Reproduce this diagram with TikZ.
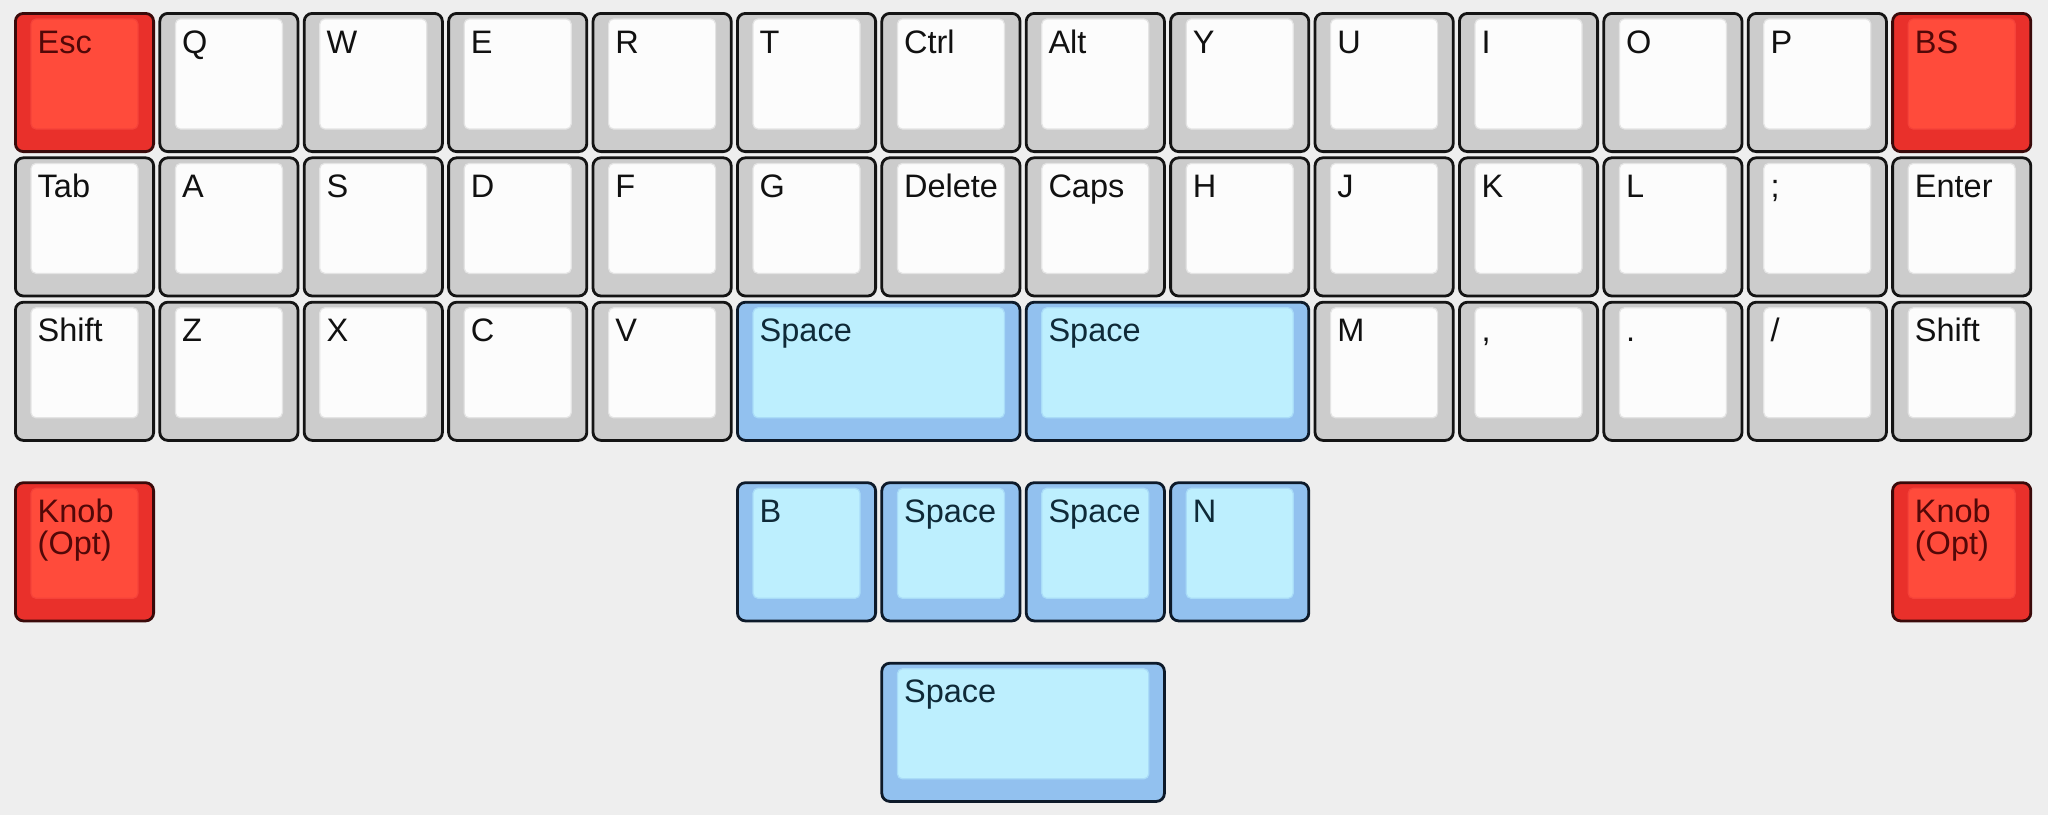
\documentclass[tikz,border=0pt]{standalone}
\usepackage{fontspec}
\setmainfont{Liberation Sans}
\definecolor{bg}{HTML}{EEEEEE}
\definecolor{greyout}{HTML}{CCCCCC}
\definecolor{greyin}{HTML}{FCFCFC}
\definecolor{greyrim}{HTML}{E4E4E4}
\definecolor{greytxt}{HTML}{111111}
\definecolor{greyedge}{HTML}{141414}
\definecolor{redout}{HTML}{E9302B}
\definecolor{redin}{HTML}{FF4B3B}
\definecolor{redrim}{HTML}{F5423A}
\definecolor{redtxt}{HTML}{520808}
\definecolor{rededge}{HTML}{3A0A0A}
\definecolor{blueout}{HTML}{92C1EF}
\definecolor{bluein}{HTML}{BDEFFE}
\definecolor{bluerim}{HTML}{A9DCF8}
\definecolor{bluetxt}{HTML}{0F2A38}
\definecolor{blueedge}{HTML}{0D1A2A}
\tikzset{
  keyouter/.style={rounded corners=8pt, line width=2.8pt, draw=#1edge, fill=#1out},
  keyinner/.style={rounded corners=5pt, line width=1.2pt, draw=#1rim, fill=#1in},
  keylabel/.style={inner sep=0pt, anchor=base west, text=#1txt,
    font=\fontsize{32.5}{32}\selectfont},
}
% name, col, row, width (units), kind, label
\newcommand\kcap[6]{%
  \path[keyouter=#5] ({15.4+#2*144.4},{13.4+#3*144.4}) rectangle ({14+#2*144.4+#4*144.4-4.8},{12+#3*144.4+139.6});
  \path[keyinner=#5] ({31+#2*144.4},{19+#3*144.4}) rectangle ({14+#2*144.4+#4*144.4-20.4},{12+#3*144.4+117});
  \node[keylabel=#5] (#1) at ({37.5+#2*144.4},{53+#3*144.4}) {#6};
}
\begin{document}
\begin{tikzpicture}[x=1pt,y=-1pt]
\useasboundingbox (0,0) rectangle (2048,815);
\fill[bg] (0,0) rectangle (2048,815);
% row 0
\kcap{esc}{0}{0}{1}{red}{Esc}
\kcap{q}{1}{0}{1}{grey}{Q}
\kcap{w}{2}{0}{1}{grey}{W}
\kcap{e}{3}{0}{1}{grey}{E}
\kcap{r}{4}{0}{1}{grey}{R}
\kcap{t}{5}{0}{1}{grey}{T}
\kcap{ctrl}{6}{0}{1}{grey}{Ctrl}
\kcap{alt}{7}{0}{1}{grey}{Alt}
\kcap{y}{8}{0}{1}{grey}{Y}
\kcap{u}{9}{0}{1}{grey}{U}
\kcap{i}{10}{0}{1}{grey}{I}
\kcap{o}{11}{0}{1}{grey}{O}
\kcap{p}{12}{0}{1}{grey}{P}
\kcap{bs}{13}{0}{1}{red}{BS}
% row 1
\kcap{tab}{0}{1}{1}{grey}{Tab}
\kcap{a}{1}{1}{1}{grey}{A}
\kcap{s}{2}{1}{1}{grey}{S}
\kcap{d}{3}{1}{1}{grey}{D}
\kcap{f}{4}{1}{1}{grey}{F}
\kcap{g}{5}{1}{1}{grey}{G}
\kcap{del}{6}{1}{1}{grey}{Delete}
\kcap{caps}{7}{1}{1}{grey}{Caps}
\kcap{h}{8}{1}{1}{grey}{H}
\kcap{j}{9}{1}{1}{grey}{J}
\kcap{k}{10}{1}{1}{grey}{K}
\kcap{l}{11}{1}{1}{grey}{L}
\kcap{semi}{12}{1}{1}{grey}{;}
\kcap{enter}{13}{1}{1}{grey}{Enter}
% row 2
\kcap{lshift}{0}{2}{1}{grey}{Shift}
\kcap{z}{1}{2}{1}{grey}{Z}
\kcap{x}{2}{2}{1}{grey}{X}
\kcap{c}{3}{2}{1}{grey}{C}
\kcap{v}{4}{2}{1}{grey}{V}
\kcap{spl}{5}{2}{2}{blue}{Space}
\kcap{spr}{7}{2}{2}{blue}{Space}
\kcap{m}{9}{2}{1}{grey}{M}
\kcap{comma}{10}{2}{1}{grey}{,}
\kcap{period}{11}{2}{1}{grey}{.}
\kcap{slash}{12}{2}{1}{grey}{/}
\kcap{rshift}{13}{2}{1}{grey}{Shift}
% row 3.25
\kcap{knobl}{0}{3.25}{1}{red}{\vtop{\hbox{Knob}\hbox{(Opt)}}}
\kcap{b}{5}{3.25}{1}{blue}{B}
\kcap{spa}{6}{3.25}{1}{blue}{Space}
\kcap{spb}{7}{3.25}{1}{blue}{Space}
\kcap{n}{8}{3.25}{1}{blue}{N}
\kcap{knobr}{13}{3.25}{1}{red}{\vtop{\hbox{Knob}\hbox{(Opt)}}}
% row 4.5
\kcap{spbig}{6}{4.5}{2}{blue}{Space}
\end{tikzpicture}
\end{document}
